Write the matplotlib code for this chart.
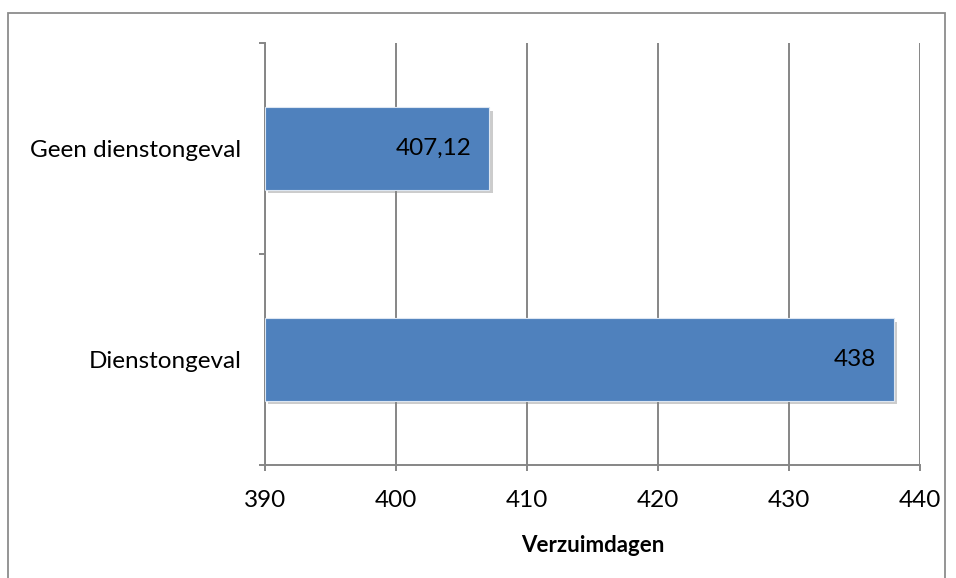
import matplotlib
matplotlib.use("Agg")
import matplotlib.pyplot as plt
import matplotlib.patheffects as pe
from matplotlib.patches import Rectangle

categories = ["Dienstongeval", "Geen dienstongeval"]
values = [438, 407.12]
value_labels = ["438", "407,12"]
x_ticks = [390, 400, 410, 420, 430, 440]

plt.rcParams['font.family'] = ['Lato', 'DejaVu Sans']

fig = plt.figure(figsize=(9.56, 5.78), dpi=100)
ax = fig.add_axes([0.2772, 0.1955, 0.6851, 0.7301])

# outer chart border
fig.patches.append(Rectangle((8 / 956, -0.05), (945 - 8) / 956, 1 - 13 / 578 + 0.05,
                             transform=fig.transFigure, fill=False,
                             edgecolor="#8c8c8c", linewidth=1.3))

pos = list(range(len(categories)))
bars = ax.barh(pos, [v - 390 for v in values], left=390, height=0.39,
               color="#4F81BD", edgecolor="#dce6f2", linewidth=0.8, zorder=3)
for b in bars:
    b.set_path_effects([pe.SimplePatchShadow(offset=(2.5, -2.5), shadow_rgbFace="#808080", alpha=0.4),
                        pe.Normal()])

for p, v, lab in zip(pos, values, value_labels):
    ax.annotate(lab, (v, p), xytext=(-18, 0), textcoords="offset pixels",
                ha="right", va="center", fontsize=17.5, color="black", zorder=4)

ax.set_xlim(390, 440)
ax.set_ylim(-0.5, 1.5)
ax.set_xticks(x_ticks)
ax.set_xticklabels([str(t) for t in x_ticks], fontsize=17.5)
ax.set_yticks(pos)
ax.set_yticklabels(categories, fontsize=17.5)
ax.set_yticks([-0.5, 0.5, 1.5], minor=True)
ax.tick_params(axis="y", which="major", length=0, pad=17)
ax.tick_params(axis="y", which="minor", length=4.5, width=1.4, color="#868686")
ax.tick_params(axis="x", length=4.5, width=1.4, color="#868686", pad=13.5)

ax.grid(axis="x", color="#868686", linewidth=1.4, zorder=0)
ax.set_axisbelow(True)
for s in ["top", "right"]:
    ax.spines[s].set_visible(False)
for s in ["left", "bottom"]:
    ax.spines[s].set_color("#868686")
    ax.spines[s].set_linewidth(1.4)

ax.set_xlabel("Verzuimdagen", fontsize=16, fontweight="bold", labelpad=17)

fig.savefig("out.png", dpi=100)
